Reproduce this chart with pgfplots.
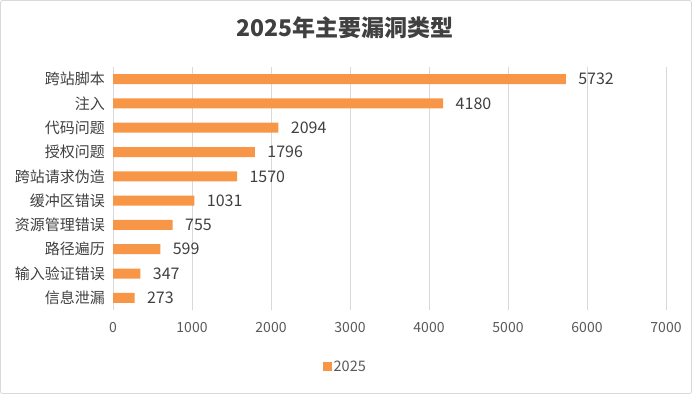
\documentclass[border=0pt]{standalone}
\usepackage{fontspec}
\setmainfont{Noto Sans CJK SC}
\usepackage{pgfplots}
\pgfplotsset{compat=1.18}
\definecolor{barorange}{HTML}{F79646}
\definecolor{txt}{HTML}{404040}
\definecolor{txtl}{HTML}{595959}
\definecolor{gridc}{HTML}{D9D9D9}
\begin{document}
\begin{tikzpicture}
\path[use as bounding box] (0,0) rectangle (692bp,394bp);
\draw[color=gridc, rounded corners=2bp, line width=0.8bp] (0.5bp,0.5bp) rectangle (691.5bp,393.5bp);
\node[font=\fontsize{23bp}{26bp}\selectfont\bfseries, text=txt] at (345bp,366bp) {2025年主要漏洞类型};
\begin{axis}[at={(113bp,84bp)}, anchor=south west, scale only axis, width=553bp, height=243bp,
  xbar, bar width=10bp, xmin=0, xmax=7000, ymin=-0.5, ymax=9.5,
  ytick={0,...,9},
  yticklabels={信息泄漏,输入验证错误,路径遍历,资源管理错误,缓冲区错误,跨站请求伪造,授权问题,代码问题,注入,跨站脚本},
  xtick={0,1000,...,7000},
  scaled ticks=false,
  /pgf/number format/1000 sep={},
  /pgf/number format/assume math mode=true,
  xmajorgrids, major grid style={gridc, line width=0.8bp},
  axis line style={draw=none}, major tick length=0pt,
  yticklabel style={font=\fontsize{15bp}{17bp}\selectfont, text=txt, inner xsep=8bp},
  xticklabel style={font=\fontsize{14bp}{16bp}\selectfont, text=txtl, yshift=-9bp},
  nodes near coords,
  nodes near coords style={anchor=west, xshift=9bp, font=\fontsize{16bp}{18bp}\selectfont, text=txt, /pgf/number format/fixed, /pgf/number format/precision=0},
  legend style={at={(0.42,-0.233)}, anchor=center, draw=none, fill=none, font=\fontsize{14.5bp}{16bp}\selectfont, text=txtl},
  legend image code/.code={\fill[barorange] (0bp,-4.5bp) rectangle (9bp,4.5bp);},
]
\addplot[fill=barorange, draw=none] coordinates {(273,0) (347,1) (599,2) (755,3) (1031,4) (1570,5) (1796,6) (2094,7) (4180,8) (5732,9)};
\addlegendentry{2025}
\end{axis}
\end{tikzpicture}
\end{document}
